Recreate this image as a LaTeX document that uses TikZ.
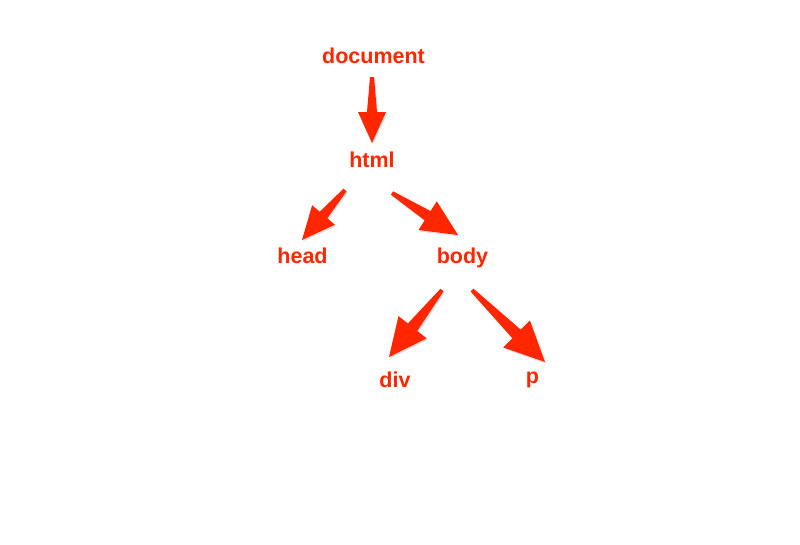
\documentclass[tikz,border=0pt]{standalone}
\usepackage{fontspec}
\setmainfont{Liberation Sans}
\usetikzlibrary{calc}
\definecolor{arrowred}{RGB}{255,38,0}
% #1 tail, #2 tip, #3 head length, #4 head half width, #5 tail half width, #6 shaft half width at head
\newcommand\fatarr[6]{%
  \coordinate (hb-#1-#2) at ($(#2)!#3!(#1)$);
  \fill[arrowred, preaction={fill=black!50, opacity=.25, transform canvas={shift={(1pt,-1.5pt)}}}]
    ($(#1)!#5!90:(#2)$) -- ($(hb-#1-#2)!#6!90:(#2)$) -- ($(hb-#1-#2)!#4!90:(#2)$) -- (#2)
    -- ($(hb-#1-#2)!#4!-90:(#2)$) -- ($(hb-#1-#2)!#6!-90:(#2)$) -- ($(#1)!#5!-90:(#2)$) -- cycle;
}
\tikzset{lbl/.style={font=\fontsize{21.5}{24}\selectfont\bfseries, text=arrowred, anchor=base, inner sep=0pt}}
\begin{document}
\begin{tikzpicture}[x=1pt,y=-1pt]
\useasboundingbox (0,0) rectangle (800,544);
\node[lbl] (document) at (373.5,63) {document};
\node[lbl] (html) at (372,167) {html};
\node[lbl] (head) at (302.5,263) {head};
\node[lbl] (body) at (462.5,263) {body};
\node[lbl] (div) at (395,387) {div};
\node[lbl] (p) at (532.5,383) {p};
% arrow end points
\coordinate (t1) at (372,77);
\coordinate (e1) at (372,143);
\coordinate (t2) at (345,190);
\coordinate (e2) at (302,240);
\coordinate (t3) at (392,193);
\coordinate (e3) at (458,235);
\coordinate (t4) at (442,290);
\coordinate (e4) at (389,357);
\coordinate (t5) at (472,290);
\coordinate (e5) at (545,362);
\fatarr{t1}{e1}{31pt}{14pt}{2pt}{5pt}
\fatarr{t2}{e2}{33pt}{15pt}{2pt}{5pt}
\fatarr{t3}{e3}{36pt}{17pt}{2pt}{5.5pt}
\fatarr{t4}{e4}{38pt}{18pt}{2pt}{6pt}
\fatarr{t5}{e5}{40pt}{19pt}{2pt}{6pt}
\end{tikzpicture}
\end{document}
